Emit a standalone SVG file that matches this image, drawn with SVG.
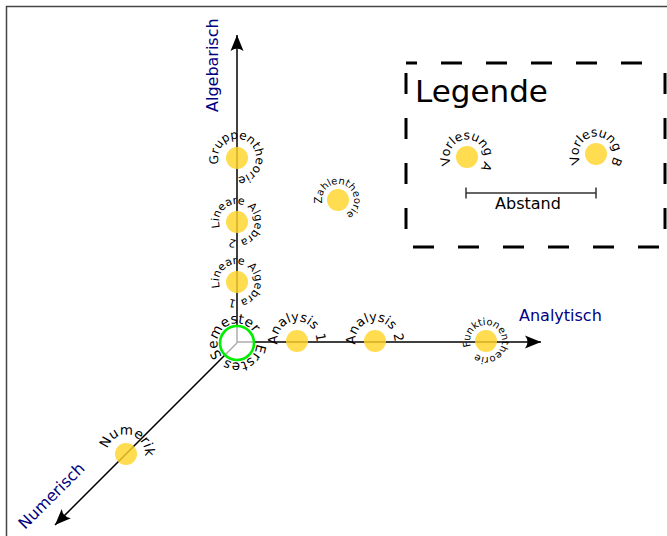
<svg xmlns="http://www.w3.org/2000/svg" xmlns:xlink="http://www.w3.org/1999/xlink" width="667" height="536" viewBox="0 0 667 536">
<style>
.lbl{font-family:"DejaVu Sans","Liberation Sans",sans-serif;fill:#000}
.axl{font-family:"DejaVu Sans","Liberation Sans",sans-serif;fill:#000080;font-size:16px}
.node{fill:#ffd42a;fill-opacity:0.82}
.axis{stroke:#000;stroke-width:1.5;fill:none}
.dash{stroke:#000;stroke-width:3;fill:none;stroke-dasharray:21 24}
</style>
<defs>
<marker id="arr" viewBox="-17 -8 19 16" refX="0" refY="0" markerWidth="19" markerHeight="16" markerUnits="userSpaceOnUse" orient="auto">
<path d="M0,0 L-16,-6.5 Q-11,0 -16,6.5 Z" fill="#000"/>
</marker>
<path id="p-gr" d="M218.93,163.87 A19,19 0 1 1 255.07,152.13 A19,19 0 1 1 218.93,163.87"/>
<path id="p-la2" d="M219.88,227.56 A18,18 0 1 1 254.12,216.44 A18,18 0 1 1 219.88,227.56"/>
<path id="p-la1" d="M219.88,287.56 A18,18 0 1 1 254.12,276.44 A18,18 0 1 1 219.88,287.56"/>
<path id="p-za" d="M322.35,203.33 A16,16 0 1 1 353.65,196.67 A16,16 0 1 1 322.35,203.33"/>
<path id="p-an1" d="M277.80,344.39 A19.5,19.5 0 1 1 316.20,337.61 A19.5,19.5 0 1 1 277.80,344.39"/>
<path id="p-an2" d="M355.80,344.39 A19.5,19.5 0 1 1 394.20,337.61 A19.5,19.5 0 1 1 355.80,344.39"/>
<path id="p-se" d="M256.49,343.68 A19.5,19.5 0 1 1 217.51,342.32 A19.5,19.5 0 1 1 256.49,343.68"/>
<path id="p-fu" d="M470.96,346.47 A16,16 0 1 1 501.04,335.53 A16,16 0 1 1 470.96,346.47"/>
<path id="p-nu" d="M107.65,449.08 A19,19 0 1 1 144.35,458.92 A19,19 0 1 1 107.65,449.08"/>
<path id="p-va" d="M451.14,164.40 A17.5,17.5 0 1 1 482.86,149.60 A17.5,17.5 0 1 1 451.14,164.40"/>
<path id="p-vb" d="M580.84,162.75 A17.5,17.5 0 1 1 611.16,145.25 A17.5,17.5 0 1 1 580.84,162.75"/>
</defs>
<rect width="667" height="536" fill="#fff"/>
<path d="M6.5,536 V6.5 H667" fill="none" stroke="#444" stroke-width="1.5"/>

<g id="connectors">
<line class="axis" x1="237" y1="343" x2="237" y2="35" marker-end="url(#arr)"/>
<line class="axis" x1="237" y1="342" x2="541" y2="342" marker-end="url(#arr)"/>
<line class="axis" x1="237" y1="343" x2="55" y2="525" marker-end="url(#arr)"/>
</g>

<g id="axis-labels">
<text class="axl" transform="translate(218,112) rotate(-90)">Algebarisch</text>
<text class="axl" x="519" y="321">Analytisch</text>
<text class="axl" transform="translate(25,530) rotate(-45)">Numerisch</text>
</g>

<g id="erstes-semester">
<circle cx="237" cy="343" r="17" fill="#fff" fill-opacity="0.68" stroke="#00ee00" stroke-width="2.6"/>
<text class="lbl" font-size="13.5"><textPath xlink:href="#p-se" href="#p-se">Erstes Semester</textPath></text>
</g>
<g id="gruppentheorie">
<circle class="node" cx="237" cy="158" r="11"/>
<text class="lbl" font-size="12"><textPath xlink:href="#p-gr" href="#p-gr">Gruppentheorie</textPath></text>
</g>
<g id="lineare-algebra-2">
<circle class="node" cx="237" cy="222" r="11"/>
<text class="lbl" font-size="11"><textPath xlink:href="#p-la2" href="#p-la2">Lineare Algebra 2</textPath></text>
</g>
<g id="lineare-algebra-1">
<circle class="node" cx="237" cy="282" r="11"/>
<text class="lbl" font-size="11"><textPath xlink:href="#p-la1" href="#p-la1">Lineare Algebra 1</textPath></text>
</g>
<g id="zahlentheorie">
<circle class="node" cx="338" cy="200" r="11"/>
<text class="lbl" font-size="10"><textPath xlink:href="#p-za" href="#p-za">Zahlentheorie</textPath></text>
</g>
<g id="analysis-1">
<circle class="node" cx="297" cy="341" r="11"/>
<text class="lbl" font-size="13"><textPath xlink:href="#p-an1" href="#p-an1">Analysis 1</textPath></text>
</g>
<g id="analysis-2">
<circle class="node" cx="375" cy="341" r="11"/>
<text class="lbl" font-size="13"><textPath xlink:href="#p-an2" href="#p-an2">Analysis 2</textPath></text>
</g>
<g id="funktionentheorie">
<circle class="node" cx="486" cy="341" r="11"/>
<text class="lbl" font-size="10"><textPath xlink:href="#p-fu" href="#p-fu">Funktionentheorie</textPath></text>
</g>
<g id="numerik">
<circle class="node" cx="126" cy="454" r="11"/>
<text class="lbl" font-size="13.5"><textPath xlink:href="#p-nu" href="#p-nu">Numerik</textPath></text>
</g>

<g id="legende">
<line class="dash" x1="406" y1="63" x2="665" y2="63" stroke-dashoffset="10"/>
<line class="dash" x1="406" y1="63" x2="406" y2="247" stroke-dashoffset="35"/>
<line class="dash" x1="406" y1="247" x2="665" y2="247" stroke-dashoffset="38"/>
<line class="dash" x1="665" y1="63" x2="665" y2="247" stroke-dashoffset="35"/>
<text class="lbl" x="415" y="102" font-size="31">Legende</text>
<g id="vorlesung-a">
<circle class="node" cx="467" cy="157" r="11"/>
<text class="lbl" font-size="12.5"><textPath xlink:href="#p-va" href="#p-va">Vorlesung A</textPath></text>
</g>
<g id="vorlesung-b">
<circle class="node" cx="596" cy="154" r="11"/>
<text class="lbl" font-size="12.5"><textPath xlink:href="#p-vb" href="#p-vb">Vorlesung B</textPath></text>
</g>
<g id="abstand">
<path d="M466,193 H596 M466,187.5 V198.5 M596,187.5 V198.5" stroke="#333" stroke-width="1.5" fill="none"/>
<text class="lbl" x="528" y="208.5" font-size="16" text-anchor="middle">Abstand</text>
</g>
</g>
</svg>
